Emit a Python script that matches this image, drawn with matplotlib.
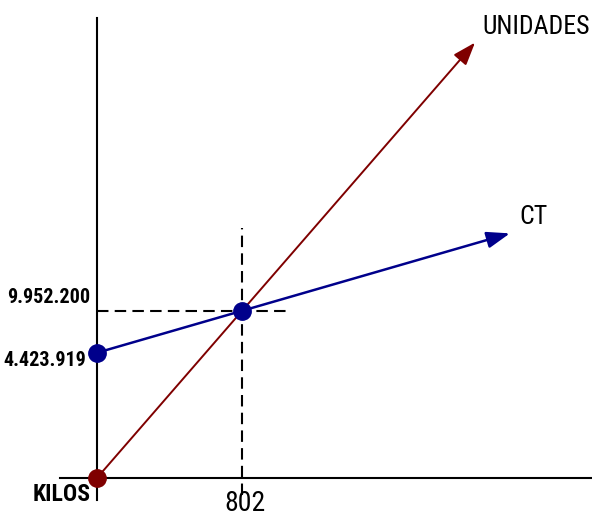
import matplotlib.pyplot as plt
from matplotlib import font_manager

# break-even chart (schematic levels on the y axis)
units_be = 802
levels = [0, 3, 4]                      # origin, fixed cost, break-even (schematic)
level_labels = ['KILOS', '4.423.919', '9.952.200']
x_label = '802'

ingresos_x = [0, 2091]                  # UNIDADES line (through origin)
ingresos_y = [0, 10.43]
ct_x = [0, 2284]                        # CT line
ct_y = [3, 5.86]

# pick a narrow font if one is installed
fonts = font_manager.fontManager.ttflist
names = {f.name for f in fonts}
family, stretch = 'Liberation Sans', 'normal'
for cand in ['Liberation Sans Narrow', 'Roboto Condensed', 'Open Sans Condensed']:
    if cand in names:
        family, stretch = cand, 'normal'
        break
else:
    cond = [f for f in fonts if str(f.stretch) in ('condensed', 'semi-condensed', '75', '87')
            and 'Sans' in f.name]
    if cond:
        family, stretch = cond[0].name, 'condensed'
plt.rcParams['font.family'] = [family, 'DejaVu Sans']
plt.rcParams['font.stretch'] = stretch

fig = plt.figure(figsize=(5.92, 5.15), dpi=100)
ax = fig.add_axes([0, 0, 1, 1])
ax.set_xlim(-536, 2738)
ax.set_ylim(-0.886, 11.45)
ax.axis('off')

red = '#7f0000'
blue = '#00008b'

# axes lines
ax.plot([0, 0], [-0.53, 11.02], color='black', lw=1.5, zorder=2)
ax.plot([-205, 2738], [0, 0], color='black', lw=1.5, zorder=2)

# dashed guides
ax.plot([units_be, units_be], [-0.41, 5.99], color='black', lw=1.5,
        dashes=(5.5, 3), zorder=2)
ax.plot([0, 1067], [levels[2], levels[2]], color='black', lw=1.5,
        dashes=(5.5, 3), zorder=2)

# lines with arrows
ax.annotate('', xy=(ingresos_x[1], ingresos_y[1]), xytext=(ingresos_x[0], ingresos_y[0]),
            arrowprops=dict(arrowstyle='-|>,head_length=0.7,head_width=0.25',
                            color=red, lw=1.4, shrinkA=0, shrinkB=0,
                            mutation_scale=20), zorder=3)
ax.annotate('', xy=(ct_x[1], ct_y[1]), xytext=(ct_x[0], ct_y[0]),
            arrowprops=dict(arrowstyle='-|>,head_length=0.7,head_width=0.25',
                            color=blue, lw=1.8, shrinkA=0, shrinkB=0,
                            mutation_scale=20), zorder=3)

# points
ax.plot([0], [0], 'o', color=red, ms=12.5, zorder=4)
ax.plot([0, units_be], [levels[1], levels[2]], 'o', color=blue, ms=12.5, zorder=4)

# labels
ax.text(2134, 10.8, 'UNIDADES', fontsize=18.5, va='center', ha='left')
ax.text(2334, 6.25, 'CT', fontsize=18.5, va='center', ha='left')
ax.annotate(level_labels[2], xy=(0, levels[2]), xytext=(-4.5, 9.6),
            textcoords='offset points', ha='right', va='center',
            fontsize=14.5, fontweight='bold')
ax.annotate(level_labels[1], xy=(0, levels[1]), xytext=(-8, -5.8),
            textcoords='offset points', ha='right', va='center',
            fontsize=14.5, fontweight='bold')
ax.annotate(level_labels[0], xy=(0, levels[0]), xytext=(-4.3, -12.2),
            textcoords='offset points', ha='right', va='center',
            fontsize=17, fontweight='bold')
ax.annotate(x_label, xy=(units_be, 0), xytext=(2, -18),
            textcoords='offset points', ha='center', va='center',
            fontsize=20)

fig.savefig('out.png', dpi=100)
